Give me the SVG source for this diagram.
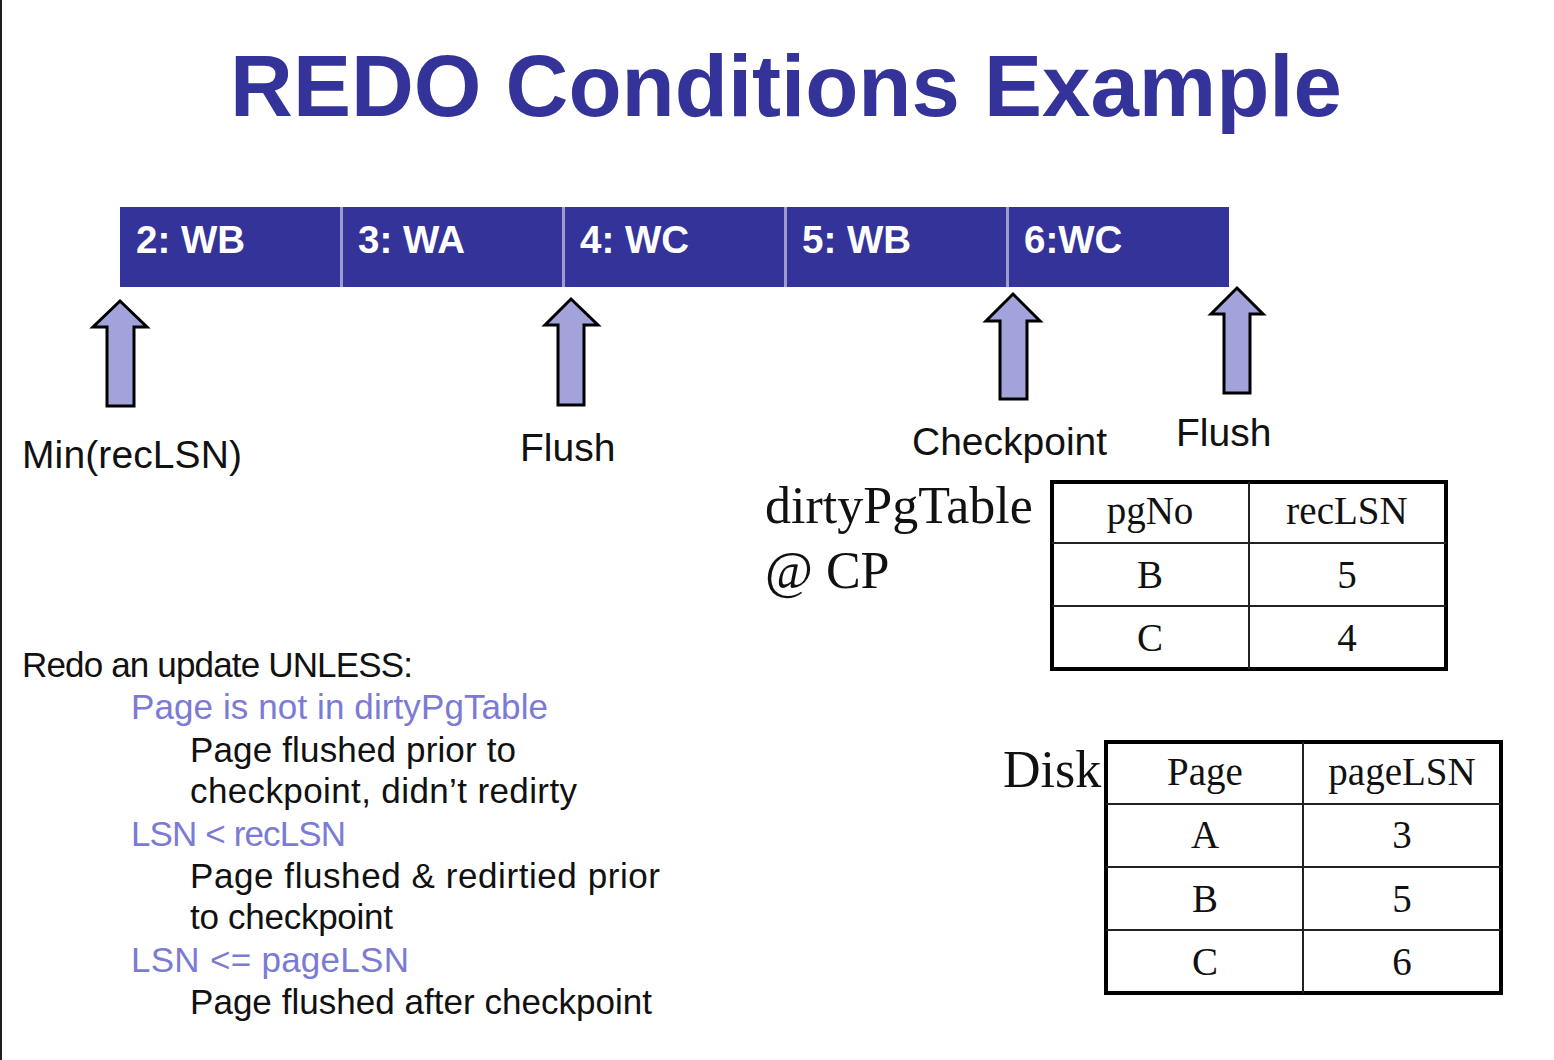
<svg xmlns="http://www.w3.org/2000/svg" width="1554" height="1060" viewBox="0 0 1554 1060">
<defs>
<style>
.title{font-family:"Liberation Sans",Arial,sans-serif;font-weight:bold;font-size:87px;fill:#333399}
.cell{fill:#333399}
.div{stroke:#9d9dcc;stroke-width:3}
.cl{font-family:"Liberation Sans",Arial,sans-serif;font-weight:bold;font-size:38.5px;fill:#ffffff}
.arrow{fill:#a3a3db;stroke:#000;stroke-width:3;stroke-linejoin:miter}
.lbl{font-family:"Liberation Sans",Arial,sans-serif;font-size:39px;fill:#111}
.serif{font-family:"Liberation Serif","Times New Roman",serif;fill:#111}
.big{font-size:52px}
.tt{font-size:39px;text-anchor:middle}
.outer{fill:#fff;stroke:#000;stroke-width:4}
.inner{stroke:#222;stroke-width:2}
.body{font-family:"Liberation Sans",Arial,sans-serif;font-size:35px;fill:#111}
.blue{fill:#7b7bd5}
</style>
</defs>
<rect x="0" y="0" width="1554" height="1060" fill="#ffffff"/>
<rect x="0" y="0" width="2" height="1060" fill="#1e1e1e"/>

<g id="title"><text class="title" x="786" y="116" text-anchor="middle">REDO Conditions Example</text></g>

<g id="log">
<rect class="cell" x="120" y="207" width="1109" height="80"/>
<line class="div" x1="341.5" y1="207" x2="341.5" y2="287"/>
<line class="div" x1="563.5" y1="207" x2="563.5" y2="287"/>
<line class="div" x1="785.5" y1="207" x2="785.5" y2="287"/>
<line class="div" x1="1007.5" y1="207" x2="1007.5" y2="287"/>
<text class="cl" x="136" y="253">2: WB</text>
<text class="cl" x="358" y="253">3: WA</text>
<text class="cl" x="580" y="253">4: WC</text>
<text class="cl" x="802" y="253">5: WB</text>
<text class="cl" x="1024" y="253">6:WC</text>
</g>

<g id="connectors">
<polygon id="arrow-minrec" class="arrow" points="120,301 147,327 134,327 134,406 107,406 107,327 93,327"/>
<polygon id="arrow-flush1" class="arrow" points="571,299 598,325 584,325 584,405 558,405 558,325 545,325"/>
<polygon id="arrow-cp" class="arrow" points="1013,294 1040,321 1027,321 1027,399 1000,399 1000,321 986,321"/>
<polygon id="arrow-flush2" class="arrow" points="1237,288 1263,314 1250,314 1250,393 1224,393 1224,314 1211,314"/>
</g>

<g id="labels">
<text class="lbl" x="22" y="468" textLength="220">Min(recLSN)</text>
<text class="lbl" x="520" y="461">Flush</text>
<text class="lbl" x="912" y="455">Checkpoint</text>
<text class="lbl" x="1176" y="446">Flush</text>
</g>

<g id="dirty-caption">
<text class="serif big" x="765" y="523">dirtyPgTable</text>
<text class="serif big" x="765" y="588">@ CP</text>
</g>

<g id="dirty-table">
<rect class="outer" x="1052" y="482" width="394" height="187"/>
<line class="inner" x1="1249" y1="482" x2="1249" y2="669"/>
<line class="inner" x1="1052" y1="543" x2="1446" y2="543"/>
<line class="inner" x1="1052" y1="606" x2="1446" y2="606"/>
<text class="serif tt" x="1150" y="524">pgNo</text>
<text class="serif tt" x="1347" y="524">recLSN</text>
<text class="serif tt" x="1150" y="588">B</text>
<text class="serif tt" x="1347" y="588">5</text>
<text class="serif tt" x="1150" y="651">C</text>
<text class="serif tt" x="1347" y="651">4</text>
</g>

<g id="disk-caption"><text class="serif big" x="1003" y="787">Disk</text></g>

<g id="disk-table">
<rect class="outer" x="1106" y="742" width="395" height="251"/>
<line class="inner" x1="1303" y1="742" x2="1303" y2="993"/>
<line class="inner" x1="1106" y1="804" x2="1501" y2="804"/>
<line class="inner" x1="1106" y1="867" x2="1501" y2="867"/>
<line class="inner" x1="1106" y1="930" x2="1501" y2="930"/>
<text class="serif tt" x="1205" y="785">Page</text>
<text class="serif tt" x="1402" y="785">pageLSN</text>
<text class="serif tt" x="1205" y="848">A</text>
<text class="serif tt" x="1402" y="848">3</text>
<text class="serif tt" x="1205" y="912">B</text>
<text class="serif tt" x="1402" y="912">5</text>
<text class="serif tt" x="1205" y="975">C</text>
<text class="serif tt" x="1402" y="975">6</text>
</g>

<g id="conditions">
<text class="body" x="22" y="677" textLength="391">Redo an update UNLESS:</text>
<text class="body blue" x="131" y="719" textLength="417">Page is not in dirtyPgTable</text>
<text class="body" x="190" y="762" textLength="326">Page flushed prior to</text>
<text class="body" x="190" y="803" textLength="387">checkpoint, didn’t redirty</text>
<text class="body blue" x="131" y="846" textLength="215">LSN &lt; recLSN</text>
<text class="body" x="190" y="888" textLength="470">Page flushed &amp; redirtied prior</text>
<text class="body" x="190" y="929" textLength="203">to checkpoint</text>
<text class="body blue" x="131" y="972" textLength="278">LSN &lt;= pageLSN</text>
<text class="body" x="190" y="1014" textLength="462">Page flushed after checkpoint</text>
</g>
</svg>
